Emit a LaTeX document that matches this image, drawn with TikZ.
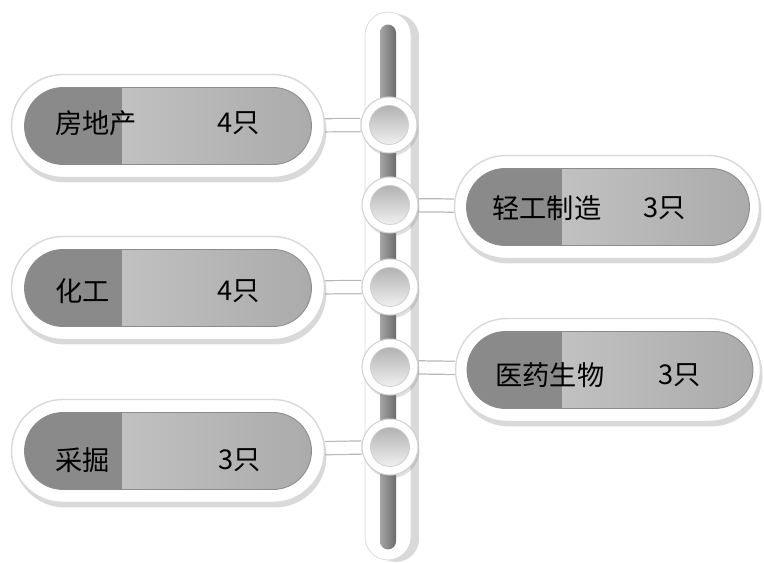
\documentclass[tikz,border=0pt]{standalone}
\usepackage{fontspec}
\newfontfamily\cjk{Noto Sans CJK SC}
\usetikzlibrary{shapes.misc,shadows,backgrounds}

\tikzset{
  outerpill/.style={rounded rectangle, minimum width=#1, minimum height=2.06cm, inner sep=0pt,
    fill=white, draw=black!15, line width=0.8pt,
    drop shadow={opacity=0.3, shadow xshift=0.04cm, shadow yshift=-0.1cm}},
  innerpill/.style 2 args={rounded rectangle, minimum width=#1, minimum height=1.54cm, inner sep=0pt,
    left color=black!20, right color=black!33, draw=black!45, line width=0.5pt,
    path picture={\fill[black!46] (path picture bounding box.south west) rectangle ([xshift=#2]path picture bounding box.north west);}},
  ring/.style={circle, minimum size=1.12cm, inner sep=0pt, fill=white, draw=black!18, line width=0.6pt,
    drop shadow={opacity=0.25, shadow xshift=0.03cm, shadow yshift=-0.06cm}},
  knob/.style={circle, minimum size=0.78cm, inner sep=0pt, top color=black!30, bottom color=black!6, draw=black!20, line width=0.4pt},
  link/.style={draw=black!28, line width=0.7pt, double=white, double distance=0.24cm},
  label/.style={inner sep=0pt, text=black, font=\cjk\fontsize{15.5}{17}\selectfont}
}

\begin{document}
\begin{tikzpicture}[x=0.02cm,y=-0.02cm]
\useasboundingbox (0,0) rectangle (764,563);

% rail
\node[rectangle, rounded corners=0.46cm, minimum width=0.92cm, minimum height=10.96cm, inner sep=0pt, fill=white, draw=black!15,
  drop shadow={opacity=0.3, shadow xshift=0.16cm, shadow yshift=-0.04cm}] (rail) at (388,286) {};
\node[rectangle, rounded corners=0.16cm, minimum width=0.32cm, minimum height=10.5cm, inner sep=0pt,
  left color=black!35, right color=black!58] (track) at (388,287) {};

% left pills
\node[outerpill=6.26cm] (fdc) at (168,126) {};
\node[innerpill={5.74cm}{1.94cm}] (fdcin) at (168,126) {};
\node[outerpill=6.26cm] (hg) at (168,288) {};
\node[innerpill={5.74cm}{1.94cm}] (hgin) at (168,288) {};
\node[outerpill=6.26cm] (cj) at (168,451) {};
\node[innerpill={5.74cm}{1.94cm}] (cjin) at (168,451) {};

% right pills
\node[outerpill=6.1cm] (qgzz) at (607,207) {};
\node[innerpill={5.66cm}{1.9cm}] (qgzzin) at (608,207) {};
\node[outerpill=6.1cm] (yysw) at (608,370) {};
\node[innerpill={5.72cm}{1.9cm}] (yyswin) at (610,370) {};

% knobs on the rail
\node[ring] (c1) at (389,125) {};
\node[knob] (c1in) at (389,125) {};
\node[ring] (c2) at (390,205) {};
\node[knob] (c2in) at (390,205) {};
\node[ring] (c3) at (390,287) {};
\node[knob] (c3in) at (390,287) {};
\node[ring] (c4) at (390,367) {};
\node[knob] (c4in) at (390,367) {};
\node[ring] (c5) at (390,447) {};
\node[knob] (c5in) at (390,447) {};

\begin{scope}[on background layer]
\draw[link] (fdc) -- (c1);
\draw[link] (c2) -- (qgzz);
\draw[link] (hg) -- (c3);
\draw[link] (c4) -- (yysw);
\draw[link] (cj) -- (c5);
\end{scope}

% labels
\node[label, anchor=west] (l1) at (55,123) {房地产};
\node[label] (n1) at (239,123) {4只};
\node[label, anchor=west] (l2) at (492,208) {轻工制造};
\node[label] (n2) at (665,208) {3只};
\node[label, anchor=west] (l3) at (55,291) {化工};
\node[label] (n3) at (239,291) {4只};
\node[label, anchor=west] (l4) at (495,375) {医药生物};
\node[label] (n4) at (680,375) {3只};
\node[label, anchor=west] (l5) at (55,460) {采掘};
\node[label] (n5) at (240,460) {3只};
\end{tikzpicture}
\end{document}
